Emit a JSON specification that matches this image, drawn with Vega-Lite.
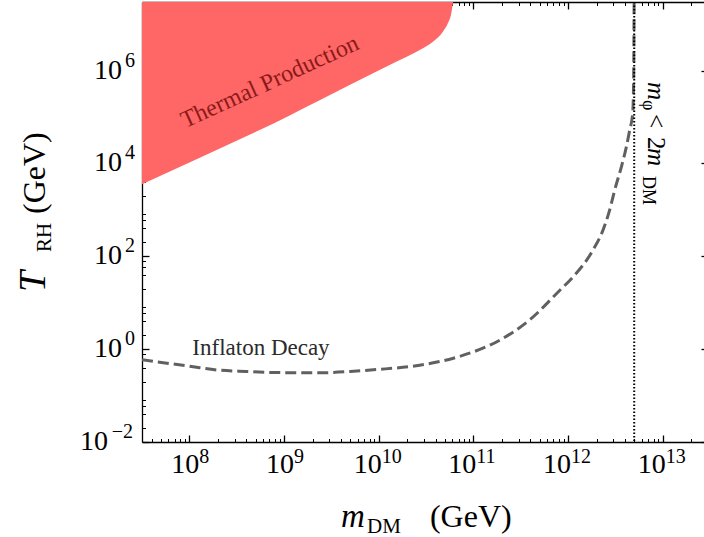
{
  "$schema": "https://vega.github.io/schema/vega-lite/v6.json",
  "width": 562,
  "height": 440,
  "autosize": {"type": "none"},
  "padding": {"left": 142, "top": 2, "right": 0, "bottom": 95},
  "background": "white",
  "config": {
    "view": {"stroke": null},
    "axis": {"grid": false, "title": null, "labels": false, "domainColor": "black", "domainWidth": 1.3, "tickColor": "black", "zindex": 1},
    "text": {"font": "Liberation Serif", "color": "black"}
  },
  "resolve": {"axis": {"x": "independent", "y": "independent"}},
  "layer": [
    {
      "data": {"values": [
        {"x": 31622776.6, "y": 3580},
        {"x": 129000000, "y": 13300},
        {"x": 553000000, "y": 52200},
        {"x": 2380000000, "y": 231000},
        {"x": 10200000000, "y": 1030000},
        {"x": 16700000000, "y": 1680000},
        {"x": 27100000000, "y": 2770000},
        {"x": 37400000000, "y": 4180000},
        {"x": 47700000000, "y": 6860000},
        {"x": 53800000000, "y": 10400000},
        {"x": 58500000000, "y": 17100000},
        {"x": 60800000000, "y": 28000000},
        {"x": 61200000000, "y": 30000000}
      ]},
      "mark": {"type": "area", "color": "#ff6666", "clip": true, "interpolate": "monotone"},
      "encoding": {
        "x": {"field": "x", "type": "quantitative", "scale": {"type": "log", "domain": [31622776.6, 27300000000000], "nice": false},
          "axis": {"orient": "bottom", "values": [1e8, 1e9, 1e10, 1e11, 1e12, 1e13], "tickSize": -7, "tickWidth": 1.3}},
        "y": {"field": "y", "type": "quantitative", "scale": {"type": "log", "domain": [0.01, 30000000], "nice": false},
          "axis": {"orient": "left", "values": [0.01, 1, 100, 10000, 1000000], "tickSize": -7, "tickWidth": 1.3}},
        "y2": {"datum": 30000000}
      }
    },
    {
      "data": {"values": [
        {"x": 31622776.6, "y": 0.59},
        {"x": 43000000, "y": 0.54},
        {"x": 100000000, "y": 0.43},
        {"x": 178000000, "y": 0.363},
        {"x": 400000000, "y": 0.33},
        {"x": 830000000, "y": 0.313},
        {"x": 2500000000, "y": 0.31},
        {"x": 5000000000, "y": 0.33},
        {"x": 9500000000, "y": 0.363},
        {"x": 27000000000, "y": 0.45},
        {"x": 72000000000, "y": 0.70},
        {"x": 190000000000, "y": 1.56},
        {"x": 390000000000, "y": 4.2},
        {"x": 820000000000, "y": 18.6},
        {"x": 1130000000000, "y": 36},
        {"x": 1830000000000, "y": 135},
        {"x": 2340000000000, "y": 366},
        {"x": 2750000000000, "y": 986},
        {"x": 3110000000000, "y": 2660},
        {"x": 3660000000000, "y": 8450},
        {"x": 4130000000000, "y": 22800},
        {"x": 4480000000000, "y": 52200},
        {"x": 4820000000000, "y": 121000},
        {"x": 4930000000000, "y": 620000},
        {"x": 4990000000000, "y": 30000000}
      ]},
      "mark": {"type": "line", "color": "#606060", "strokeWidth": 3, "strokeDash": [11, 5], "clip": true, "interpolate": "monotone"},
      "encoding": {
        "x": {"field": "x", "type": "quantitative", "scale": {"type": "log", "domain": [31622776.6, 27300000000000], "nice": false},
          "axis": {"orient": "bottom", "domain": false, "tickSize": -3.5, "tickWidth": 1,
            "values": [4e7,5e7,6e7,7e7,8e7,9e7,2e8,3e8,4e8,5e8,6e8,7e8,8e8,9e8,2e9,3e9,4e9,5e9,6e9,7e9,8e9,9e9,2e10,3e10,4e10,5e10,6e10,7e10,8e10,9e10,2e11,3e11,4e11,5e11,6e11,7e11,8e11,9e11,2e12,3e12,4e12,5e12,6e12,7e12,8e12,9e12,2e13]}},
        "y": {"field": "y", "type": "quantitative", "scale": {"type": "log", "domain": [0.01, 30000000], "nice": false},
          "axis": {"orient": "left", "domain": false, "tickSize": -3.5, "tickWidth": 1,
            "values": [0.02,0.04,0.06,0.08,0.2,0.4,0.6,0.8,2,4,6,8,20,40,60,80,200,400,600,800,2000,4000,6000,8000,20000,40000,60000,80000,200000,400000,600000,800000,2000000,4000000,6000000,8000000,20000000]}}
      }
    },
    {
      "data": {"values": [{"x": 5000000000000}]},
      "mark": {"type": "rule", "color": "black", "strokeWidth": 2, "strokeDash": [1.5, 2]},
      "encoding": {
        "x": {"field": "x", "type": "quantitative", "scale": {"type": "log", "domain": [31622776.6, 27300000000000], "nice": false}, "axis": null}
      }
    },
    {
      "data": {"values": [{"x": 711000000, "y": 567000, "t": "Thermal Production"}]},
      "mark": {"type": "text", "fontSize": 24, "color": "#8b1a1a", "angle": 335.5, "align": "center", "baseline": "middle"},
      "encoding": {
        "x": {"field": "x", "type": "quantitative", "scale": {"type": "log", "domain": [31622776.6, 27300000000000], "nice": false},
          "axis": {"orient": "top", "domain": true, "tickSize": -7, "tickWidth": 1.3, "values": [1e8, 1e9, 1e10, 1e11, 1e12, 1e13]}},
        "y": {"field": "y", "type": "quantitative", "scale": {"type": "log", "domain": [0.01, 30000000], "nice": false},
          "axis": {"orient": "right", "domain": false, "offset": 4, "tickSize": -7, "tickWidth": 1.3, "values": [0.01, 1, 100, 10000, 1000000]}},
        "text": {"field": "t"}
      }
    },
    {
      "data": {"values": [{"x": 571000000, "y": 1.06, "t": "Inflaton Decay"}]},
      "mark": {"type": "text", "fontSize": 23, "color": "#2b2b2b", "align": "center", "baseline": "middle"},
      "encoding": {
        "x": {"field": "x", "type": "quantitative", "scale": {"type": "log", "domain": [31622776.6, 27300000000000], "nice": false},
          "axis": {"orient": "top", "domain": false, "tickSize": -3.5, "tickWidth": 1,
            "values": [4e7,5e7,6e7,7e7,8e7,9e7,2e8,3e8,4e8,5e8,6e8,7e8,8e8,9e8,2e9,3e9,4e9,5e9,6e9,7e9,8e9,9e9,2e10,3e10,4e10,5e10,6e10,7e10,8e10,9e10,2e11,3e11,4e11,5e11,6e11,7e11,8e11,9e11,2e12,3e12,4e12,5e12,6e12,7e12,8e12,9e12,2e13]}},
        "y": {"field": "y", "type": "quantitative", "scale": {"type": "log", "domain": [0.01, 30000000], "nice": false}, "axis": null},
        "text": {"field": "t"}
      }
    },
    {
      "data": {"values": [{"x": 1e8, "t": "10"}, {"x": 1e9, "t": "10"}]},
      "mark": {"type": "text", "fontSize": 28, "align": "right", "baseline": "alphabetic", "dx": 10, "dy": 31},
      "encoding": {
        "x": {"field": "x", "type": "quantitative", "scale": {"type": "log", "domain": [31622776.6, 27300000000000], "nice": false}, "axis": null},
        "y": {"datum": 0.01, "type": "quantitative", "scale": {"type": "log", "domain": [0.01, 30000000], "nice": false}, "axis": null},
        "text": {"field": "t"}
      }
    },
    {
      "data": {"values": [{"x": 1e8, "t": "8"}, {"x": 1e9, "t": "9"}]},
      "mark": {"type": "text", "fontSize": 20, "align": "left", "baseline": "alphabetic", "dx": 10, "dy": 21},
      "encoding": {
        "x": {"field": "x", "type": "quantitative", "scale": {"type": "log", "domain": [31622776.6, 27300000000000], "nice": false}, "axis": null},
        "y": {"datum": 0.01, "type": "quantitative", "scale": {"type": "log", "domain": [0.01, 30000000], "nice": false}, "axis": null},
        "text": {"field": "t"}
      }
    },
    {
      "data": {"values": [{"x": 1e10, "t": "10"}, {"x": 1e11, "t": "10"}, {"x": 1e12, "t": "10"}, {"x": 1e13, "t": "10"}]},
      "mark": {"type": "text", "fontSize": 28, "align": "right", "baseline": "alphabetic", "dx": 3, "dy": 31},
      "encoding": {
        "x": {"field": "x", "type": "quantitative", "scale": {"type": "log", "domain": [31622776.6, 27300000000000], "nice": false}, "axis": null},
        "y": {"datum": 0.01, "type": "quantitative", "scale": {"type": "log", "domain": [0.01, 30000000], "nice": false}, "axis": null},
        "text": {"field": "t"}
      }
    },
    {
      "data": {"values": [{"x": 1e10, "t": "10"}, {"x": 1e11, "t": "11"}, {"x": 1e12, "t": "12"}, {"x": 1e13, "t": "13"}]},
      "mark": {"type": "text", "fontSize": 20, "align": "left", "baseline": "alphabetic", "dx": 3, "dy": 21},
      "encoding": {
        "x": {"field": "x", "type": "quantitative", "scale": {"type": "log", "domain": [31622776.6, 27300000000000], "nice": false}, "axis": null},
        "y": {"datum": 0.01, "type": "quantitative", "scale": {"type": "log", "domain": [0.01, 30000000], "nice": false}, "axis": null},
        "text": {"field": "t"}
      }
    },
    {
      "data": {"values": [{"y": 1, "t": "10"}, {"y": 100, "t": "10"}, {"y": 10000, "t": "10"}, {"y": 1000000, "t": "10"}]},
      "mark": {"type": "text", "fontSize": 28, "align": "right", "baseline": "alphabetic", "dx": -20, "dy": 8},
      "encoding": {
        "x": {"datum": 31622776.6, "type": "quantitative", "scale": {"type": "log", "domain": [31622776.6, 27300000000000], "nice": false}, "axis": null},
        "y": {"field": "y", "type": "quantitative", "scale": {"type": "log", "domain": [0.01, 30000000], "nice": false}, "axis": null},
        "text": {"field": "t"}
      }
    },
    {
      "data": {"values": [{"y": 1, "t": "0"}, {"y": 100, "t": "2"}, {"y": 10000, "t": "4"}, {"y": 1000000, "t": "6"}]},
      "mark": {"type": "text", "fontSize": 20, "align": "right", "baseline": "alphabetic", "dx": -7, "dy": -4},
      "encoding": {
        "x": {"datum": 31622776.6, "type": "quantitative", "scale": {"type": "log", "domain": [31622776.6, 27300000000000], "nice": false}, "axis": null},
        "y": {"field": "y", "type": "quantitative", "scale": {"type": "log", "domain": [0.01, 30000000], "nice": false}, "axis": null},
        "text": {"field": "t"}
      }
    },
    {
      "data": {"values": [{"y": 0.01, "t": "10"}]},
      "mark": {"type": "text", "fontSize": 28, "align": "right", "baseline": "alphabetic", "dx": -34, "dy": 8},
      "encoding": {
        "x": {"datum": 31622776.6, "type": "quantitative", "scale": {"type": "log", "domain": [31622776.6, 27300000000000], "nice": false}, "axis": null},
        "y": {"field": "y", "type": "quantitative", "scale": {"type": "log", "domain": [0.01, 30000000], "nice": false}, "axis": null},
        "text": {"field": "t"}
      }
    },
    {
      "data": {"values": [{"y": 0.01, "t": "−2"}]},
      "mark": {"type": "text", "fontSize": 20, "align": "right", "baseline": "alphabetic", "dx": -9, "dy": -4},
      "encoding": {
        "x": {"datum": 31622776.6, "type": "quantitative", "scale": {"type": "log", "domain": [31622776.6, 27300000000000], "nice": false}, "axis": null},
        "y": {"field": "y", "type": "quantitative", "scale": {"type": "log", "domain": [0.01, 30000000], "nice": false}, "axis": null},
        "text": {"field": "t"}
      }
    },
    {
      "data": {"values": [{"x": 4000000000, "y": 0.0001475, "t": "m"}]},
      "mark": {"type": "text", "fontStyle": "italic", "fontSize": 33, "align": "left", "baseline": "alphabetic"},
      "encoding": {
        "x": {"field": "x", "type": "quantitative", "scale": {"type": "log", "domain": [31622776.6, 27300000000000], "nice": false}, "axis": null},
        "y": {"field": "y", "type": "quantitative", "scale": {"type": "log", "domain": [0.01, 30000000], "nice": false}, "axis": null},
        "text": {"field": "t"}
      }
    },
    {
      "data": {"values": [{"x": 7520000000, "y": 0.0001475, "t": "DM"}]},
      "mark": {"type": "text", "fontSize": 21, "align": "left", "baseline": "alphabetic", "dy": 6},
      "encoding": {
        "x": {"field": "x", "type": "quantitative", "scale": {"type": "log", "domain": [31622776.6, 27300000000000], "nice": false}, "axis": null},
        "y": {"field": "y", "type": "quantitative", "scale": {"type": "log", "domain": [0.01, 30000000], "nice": false}, "axis": null},
        "text": {"field": "t"}
      }
    },
    {
      "data": {"values": [{"x": 34800000000, "y": 0.0001475, "t": "(GeV)"}]},
      "mark": {"type": "text", "fontSize": 32, "align": "left", "baseline": "alphabetic"},
      "encoding": {
        "x": {"field": "x", "type": "quantitative", "scale": {"type": "log", "domain": [31622776.6, 27300000000000], "nice": false}, "axis": null},
        "y": {"field": "y", "type": "quantitative", "scale": {"type": "log", "domain": [0.01, 30000000], "nice": false}, "axis": null},
        "text": {"field": "t"}
      }
    },
    {
      "data": {"values": [{"x": 2990000, "y": 17.0, "t": "T"}]},
      "mark": {"type": "text", "fontStyle": "italic", "fontSize": 38, "align": "left", "baseline": "alphabetic", "angle": 270},
      "encoding": {
        "x": {"field": "x", "type": "quantitative", "scale": {"type": "log", "domain": [31622776.6, 27300000000000], "nice": false}, "axis": null},
        "y": {"field": "y", "type": "quantitative", "scale": {"type": "log", "domain": [0.01, 30000000], "nice": false}, "axis": null},
        "text": {"field": "t"}
      }
    },
    {
      "data": {"values": [{"x": 2990000, "y": 123.6, "t": "RH"}]},
      "mark": {"type": "text", "fontSize": 21, "align": "left", "baseline": "alphabetic", "angle": 270, "dy": 6},
      "encoding": {
        "x": {"field": "x", "type": "quantitative", "scale": {"type": "log", "domain": [31622776.6, 27300000000000], "nice": false}, "axis": null},
        "y": {"field": "y", "type": "quantitative", "scale": {"type": "log", "domain": [0.01, 30000000], "nice": false}, "axis": null},
        "text": {"field": "t"}
      }
    },
    {
      "data": {"values": [{"x": 2990000, "y": 814, "t": "(GeV)"}]},
      "mark": {"type": "text", "fontSize": 32, "align": "left", "baseline": "alphabetic", "angle": 270},
      "encoding": {
        "x": {"field": "x", "type": "quantitative", "scale": {"type": "log", "domain": [31622776.6, 27300000000000], "nice": false}, "axis": null},
        "y": {"field": "y", "type": "quantitative", "scale": {"type": "log", "domain": [0.01, 30000000], "nice": false}, "axis": null},
        "text": {"field": "t"}
      }
    },
    {
      "data": {"values": [{"x": 6980000000000, "y": 567000, "t": "m"}, {"x": 6980000000000, "y": 21500, "t": "m"}]},
      "mark": {"type": "text", "fontStyle": "italic", "fontSize": 25, "align": "left", "baseline": "alphabetic", "angle": 90},
      "encoding": {
        "x": {"field": "x", "type": "quantitative", "scale": {"type": "log", "domain": [31622776.6, 27300000000000], "nice": false}, "axis": null},
        "y": {"field": "y", "type": "quantitative", "scale": {"type": "log", "domain": [0.01, 30000000], "nice": false}, "axis": null},
        "text": {"field": "t"}
      }
    },
    {
      "data": {"values": [{"x": 6980000000000, "y": 232000, "t": "φ"}, {"x": 6980000000000, "y": 5360, "t": "DM"}]},
      "mark": {"type": "text", "fontSize": 18, "align": "left", "baseline": "alphabetic", "angle": 90, "dy": 5},
      "encoding": {
        "x": {"field": "x", "type": "quantitative", "scale": {"type": "log", "domain": [31622776.6, 27300000000000], "nice": false}, "axis": null},
        "y": {"field": "y", "type": "quantitative", "scale": {"type": "log", "domain": [0.01, 30000000], "nice": false}, "axis": null},
        "text": {"field": "t"}
      }
    },
    {
      "data": {"values": [{"x": 6980000000000, "y": 116000, "t": "<"}, {"x": 6980000000000, "y": 37100, "t": "2"}]},
      "mark": {"type": "text", "fontSize": 25, "align": "left", "baseline": "alphabetic", "angle": 90},
      "encoding": {
        "x": {"field": "x", "type": "quantitative", "scale": {"type": "log", "domain": [31622776.6, 27300000000000], "nice": false}, "axis": null},
        "y": {"field": "y", "type": "quantitative", "scale": {"type": "log", "domain": [0.01, 30000000], "nice": false}, "axis": null},
        "text": {"field": "t"}
      }
    }
  ]
}
